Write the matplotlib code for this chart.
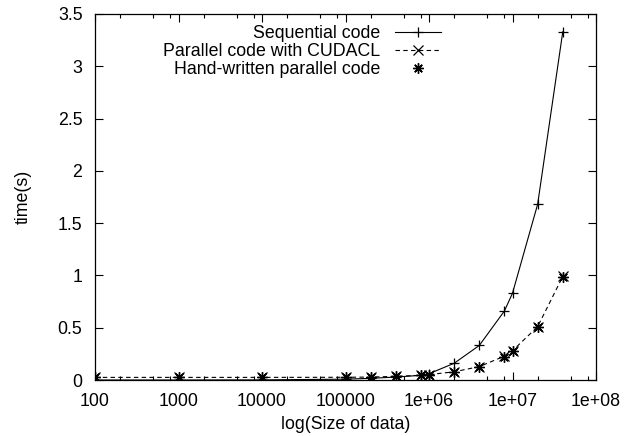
import math
import matplotlib
matplotlib.use("Agg")
import matplotlib.pyplot as plt
from matplotlib.ticker import LogLocator, FuncFormatter, MultipleLocator, NullFormatter

plt.rcParams['font.family'] = ['Liberation Sans', 'DejaVu Sans']

# Data
sizes = [100, 1000, 10000, 100000, 200000, 400000, 800000, 1000000,
         2000000, 4000000, 8000000, 10000000, 20000000, 40000000]
sequential = [0.0, 0.0, 0.001, 0.008, 0.016, 0.028, 0.045, 0.06,
              0.16, 0.33, 0.66, 0.83, 1.68, 3.33]
cudacl = [0.025, 0.025, 0.025, 0.026, 0.028, 0.035, 0.045, 0.052,
          0.078, 0.128, 0.228, 0.28, 0.51, 0.99]
handwritten = [0.03, 0.03, 0.03, 0.03, 0.032, 0.038, 0.045, 0.05,
               0.075, 0.125, 0.222, 0.275, 0.505, 0.985]

fs = 12.8

fig = plt.figure(figsize=(6.24, 4.36), dpi=100)
ax = fig.add_axes([95 / 624, 1 - 380 / 436, (596 - 95) / 624, (380 - 14) / 436])

ax.plot(sizes, sequential, color='black', lw=0.8, marker='+', ms=7.5, mew=0.9,
        label='Sequential code')
ax.plot(sizes, cudacl, color='black', lw=0.8, ls=(0, (4, 3)), marker='x', ms=6.5, mew=0.9,
        label='Parallel code with CUDACL')
ax.plot(sizes, handwritten, ls='none', color='black', marker=(8, 2, 0), ms=7.5, mew=1.0,
        label='Hand-written parallel code')

ax.set_xscale('log')
ax.set_xlim(100, 1e8)
ax.set_ylim(0, 3.5)
ax.xaxis.set_major_locator(LogLocator(base=10, numticks=10))
ax.xaxis.set_major_formatter(FuncFormatter(
    lambda v, p: f"{int(round(v))}" if v < 1e6 else f"1e+{int(round(math.log10(v))):02d}"))
ax.xaxis.set_minor_locator(LogLocator(base=10, subs=(2, 5, 8), numticks=20))
ax.xaxis.set_minor_formatter(NullFormatter())
ax.yaxis.set_major_locator(MultipleLocator(0.5))
ax.yaxis.set_major_formatter(FuncFormatter(lambda v, p: f"{v:g}"))

ax.tick_params(which='both', direction='in', top=True, right=True, labelsize=fs,
               width=0.8, color='black')
ax.tick_params(which='major', length=6)
ax.tick_params(axis='x', which='major', pad=9)
ax.tick_params(axis='y', which='major', pad=9)
ax.tick_params(which='minor', length=3)
for s in ax.spines.values():
    s.set_linewidth(0.9)

ax.set_xlabel('log(Size of data)', fontsize=fs, labelpad=5)
ax.set_ylabel('time(s)', fontsize=fs, labelpad=19)

ax.legend(loc='upper right', bbox_to_anchor=((441 - 95) / 501, (380 - 25) / 366),
          frameon=False, markerfirst=False, fontsize=fs, borderpad=0,
          borderaxespad=0, handlelength=2.6, handletextpad=0.8, labelspacing=0.05)

fig.savefig('out.png', dpi=100)
